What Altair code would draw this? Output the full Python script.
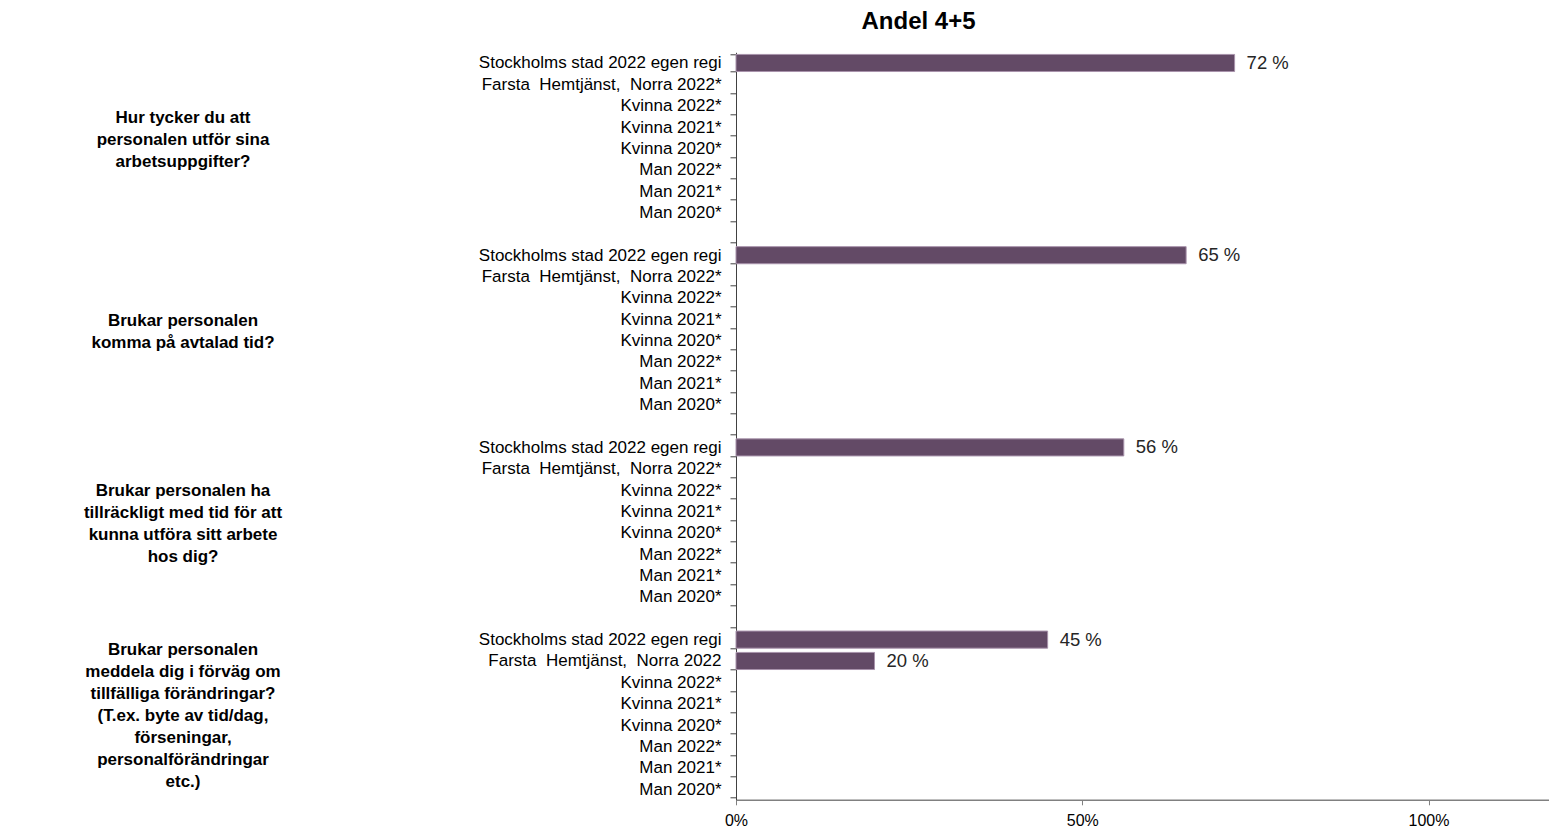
import altair as alt
import pandas as pd

FONT = "Liberation Sans"

title_text = "Andel 4+5"

questions = [
    "Hur tycker du att\npersonalen utför sina\narbetsuppgifter?",
    "Brukar personalen\nkomma på avtalad tid?",
    "Brukar personalen ha\ntillräckligt med tid för att\nkunna utföra sitt arbete\nhos dig?",
    "Brukar personalen\nmeddela dig i förväg om\ntillfälliga förändringar?\n(T.ex. byte av tid/dag,\nförseningar,\npersonalförändringar\netc.)",
]

row_labels = [
    ["Stockholms stad 2022 egen regi", "Farsta\u00a0 Hemtjänst,\u00a0 Norra 2022*", "Kvinna 2022*", "Kvinna 2021*",
     "Kvinna 2020*", "Man 2022*", "Man 2021*", "Man 2020*"],
    ["Stockholms stad 2022 egen regi", "Farsta\u00a0 Hemtjänst,\u00a0 Norra 2022*", "Kvinna 2022*", "Kvinna 2021*",
     "Kvinna 2020*", "Man 2022*", "Man 2021*", "Man 2020*"],
    ["Stockholms stad 2022 egen regi", "Farsta\u00a0 Hemtjänst,\u00a0 Norra 2022*", "Kvinna 2022*", "Kvinna 2021*",
     "Kvinna 2020*", "Man 2022*", "Man 2021*", "Man 2020*"],
    ["Stockholms stad 2022 egen regi", "Farsta\u00a0 Hemtjänst,\u00a0 Norra 2022", "Kvinna 2022*", "Kvinna 2021*",
     "Kvinna 2020*", "Man 2022*", "Man 2021*", "Man 2020*"],
]

values = [
    [0.72, None, None, None, None, None, None, None],
    [0.65, None, None, None, None, None, None, None],
    [0.56, None, None, None, None, None, None, None],
    [0.45, 0.20, None, None, None, None, None, None],
]

x_ticks = [0, 0.5, 1.0]

# build table
keys = []
bar_rows = []
group_rows = []
for g in range(len(questions)):
    for r, lab in enumerate(row_labels[g]):
        key = f"{g}{r}|{lab}"
        keys.append(key)
        v = values[g][r]
        if v is not None:
            bar_rows.append({"key": key, "v": v})
        if r == 3:
            group_rows.append({"key": key, "q": questions[g]})
    if g < len(questions) - 1:
        keys.append(f"{g}9|")

bars_df = pd.DataFrame(bar_rows)

W = 813
H = 747.5
step = H / len(keys)
LH = 22

yscale = alt.Scale(domain=keys, paddingInner=0.2, paddingOuter=0.1)
xscale = alt.Scale(domain=[0, 1.174], nice=False, zero=True)

bars = alt.Chart(bars_df).mark_bar(
    color="#634a66", stroke="#a893ab", strokeWidth=1
).encode(
    x=alt.X("v:Q", scale=xscale, title=None,
            axis=alt.Axis(values=x_ticks, format=".0%", grid=False, domainColor="#808080",
                          domainWidth=1.5, tickColor="#808080", tickSize=5, labelFontSize=16,
                          labelColor="#000000", labelFont=FONT, labelPadding=8, labelFlush=False)),
    y=alt.Y("key:N", scale=yscale, title=None, sort=None,
            axis=alt.Axis(labelExpr="slice(datum.label, indexof(datum.label, '|') + 1)",
                          tickBand="extent", tickSize=6, tickColor="#404040", domainColor="#404040",
                          labelFontSize=17, labelFont=FONT, labelColor="#000000",
                          labelPadding=9, grid=False, labelLimit=400)),
)

value_labels = alt.Chart(bars_df).transform_calculate(
    txt="format(datum.v * 100, '.0f') + ' %'"
).mark_text(align="left", baseline="middle", dx=12, fontSize=18.5, font=FONT, color="#262626").encode(
    x=alt.X("v:Q", scale=xscale),
    y=alt.Y("key:N", scale=yscale, sort=None),
    text="txt:N",
)

group_layers = []
for row in group_rows:
    n_lines = row["q"].count("\n") + 1
    gl = alt.Chart(pd.DataFrame([row])).mark_text(
        align="center", baseline="middle", lineBreak="\n", lineHeight=LH,
        fontSize=17, fontWeight="bold", font=FONT, color="#000000",
        dy=step / 2 - (n_lines - 1) * LH / 2 + 2
    ).encode(
        x=alt.value(-553),
        y=alt.Y("key:N", scale=yscale, sort=None),
        text="q:N",
    )
    group_layers.append(gl)

chart = alt.layer(bars, value_labels, *group_layers).properties(
    width=W, height=H,
    title=alt.TitleParams(title_text, fontSize=24, fontWeight="bold", font=FONT, color="#000000",
                          anchor="middle", dx=-224, offset=9),
    autosize=alt.AutoSizeParams(type="none"),
    padding={"left": 728, "top": 44.3, "right": 0, "bottom": 40},
).configure(background="#ffffff").configure_view(stroke=None)

chart.save("out.html", embed_options={"renderer": "svg", "actions": False})
